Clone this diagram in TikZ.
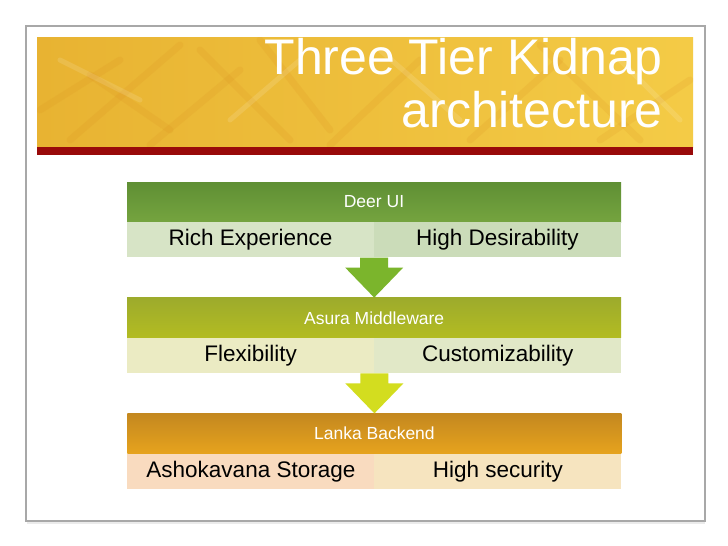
\documentclass[tikz,border=0pt]{standalone}
\usepackage{fontspec}
\setmainfont{Liberation Sans}
\usetikzlibrary{positioning,calc}

\definecolor{frameGray}{HTML}{A8A8A8}
\definecolor{bannerA}{HTML}{E8B332}
\definecolor{bannerB}{HTML}{F4CB46}
\definecolor{bannerRed}{HTML}{990A0A}
\definecolor{streak}{HTML}{D98A1C}
\definecolor{uiTop}{HTML}{5F8F34}
\definecolor{uiBot}{HTML}{75A43F}
\definecolor{uiLeft}{HTML}{D7E4C6}
\definecolor{uiRight}{HTML}{CBDCB9}
\definecolor{mwTop}{HTML}{9DAB2C}
\definecolor{mwBot}{HTML}{B3BC22}
\definecolor{mwLeft}{HTML}{EBEBC3}
\definecolor{mwRight}{HTML}{E1E8C7}
\definecolor{beTop}{HTML}{C4881F}
\definecolor{beBot}{HTML}{E6A31E}
\definecolor{beLeft}{HTML}{F9DBBF}
\definecolor{beRight}{HTML}{F6E4BF}
\definecolor{arrowOne}{HTML}{7BB52C}
\definecolor{arrowTwo}{HTML}{D3DD1F}

\tikzset{
  head/.style={minimum width=494pt, minimum height=40pt, inner sep=0pt,
    text=white, font=\fontsize{17.5}{20}\selectfont},
  cell/.style={minimum width=247pt, minimum height=35pt, inner sep=0pt,
    font=\fontsize{22.5}{26}\selectfont},
  titletext/.style={anchor=base east, inner sep=0pt, text=white,
    font=\fontsize{50}{53}\selectfont},
}

\begin{document}
\begin{tikzpicture}[x=1pt,y=-1pt]
  \useasboundingbox[fill=white] (0,0) rectangle (728,546);

  % slide frame
  \draw[black!8,line width=2pt] (27,523) -- (705,523);
  \draw[frameGray,line width=1.2pt] (26,26) rectangle (705,521);

  % title banner
  \shade[left color=bannerA, right color=bannerB] (37,37) rectangle (693,147);
  \begin{scope}
    \clip (37,37) rectangle (693,147);
    \foreach \a/\b/\c/\d in {40/110/120/60, 70/140/180/45, 150/145/240/70, 200/50/290/140,
                             260/40/330/130, 330/145/420/60, 90/75/170/130, 470/140/560/60,
                             540/45/640/140, 600/140/690/80}
      \draw[streak, opacity=.14, line width=7pt, line cap=round] (\a,\b) -- (\c,\d);
    \foreach \a/\b/\c/\d in {60/60/140/100, 230/120/300/60, 380/50/460/120, 620/60/680/120}
      \draw[white, opacity=.12, line width=5pt, line cap=round] (\a,\b) -- (\c,\d);
  \end{scope}
  \fill[bannerRed] (37,147) rectangle (693,155);

  % title
  \node[titletext] (title1) at (663,74) {Three Tier Kidnap};
  \node[titletext] (title2) at (663,127) {architecture};

  % tier 1
  \node[head, top color=uiTop, bottom color=uiBot] (h1) at (374,202) {Deer UI};
  \node[cell, fill=uiLeft, anchor=north west] (l1) at (h1.south west) {Rich Experience};
  \node[cell, fill=uiRight, anchor=north east] (r1) at (h1.south east) {High Desirability};

  % tier 2
  \node[head, top color=mwTop, bottom color=mwBot, below=40pt of l1.south east] (h2) {Asura Middleware};
  \node[cell, fill=mwLeft, anchor=north west] (l2) at (h2.south west) {Flexibility};
  \node[cell, fill=mwRight, anchor=north east] (r2) at (h2.south east) {Customizability};

  % tier 3
  \node[head, top color=beTop, bottom color=beBot, below=40pt of l2.south east] (h3) {Lanka Backend};
  \node[cell, fill=beLeft, anchor=north west] (l3) at (h3.south west) {Ashokavana Storage};
  \node[cell, fill=beRight, anchor=north east] (r3) at (h3.south east) {High security};

  % arrows
  \fill[arrowOne] ($(l1.south east)+(-14,0)$) -- ++(28,0) -- ++(0,10) -- ++(15,0)
    -- (h2.north) -- ++(-29,-30) -- ++(15,0) -- cycle;
  \fill[arrowTwo] ($(l2.south east)+(-14,0)$) -- ++(28,0) -- ++(0,10) -- ++(15,0)
    -- (h3.north) -- ++(-29,-30) -- ++(15,0) -- cycle;
\end{tikzpicture}
\end{document}
